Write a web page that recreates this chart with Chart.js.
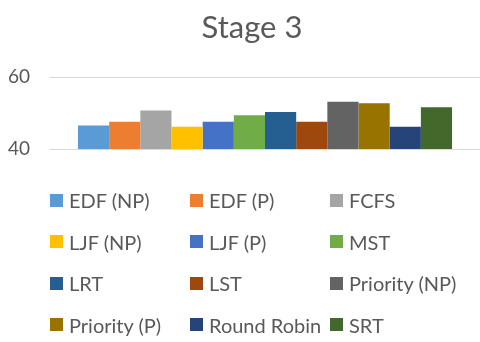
<!DOCTYPE html>
<html>
<head>
<meta charset="utf-8">
<script src="https://cdn.jsdelivr.net/npm/chart.js@4"></script>
<style>
    body { margin: 0; background: #fff; }
    .wrap { position: relative; width: 480px; height: 342px; }
    #legend { position: absolute; left: 0; top: 0; width: 480px; height: 342px; pointer-events: none; }
    .title { position: absolute; left: 152px; width: 200px; top: 6px; text-align: center; font-family: Lato, sans-serif; font-size: 31px; line-height: 40px; color: #595959; }
    .item { position: absolute; display: flex; align-items: center; height: 24px; font-family: Lato, sans-serif; font-size: 20px; color: #595959; white-space: nowrap; }
    .box { width: 13px; height: 13px; margin-right: 6px; flex: none; }
</style>
</head>
<body>
<div class="wrap">
    <canvas id="barChart" width="480" height="342"></canvas>
    <div id="legend"></div>
</div>
<script>
const chartTitle = 'Stage 3';
const categories = ['Stage 3'];
const seriesNames = ['EDF (NP)', 'EDF (P)', 'FCFS', 'LJF (NP)', 'LJF (P)', 'MST',
    'LRT', 'LST', 'Priority (NP)', 'Priority (P)', 'Round Robin', 'SRT'];
const seriesValues = [46.5, 47.6, 50.7, 46.2, 47.6, 49.4, 50.3, 47.6, 53.1, 52.7, 46.2, 51.6];
const seriesColors = ['#5b9bd5', '#ed7d31', '#a5a5a5', '#ffc000', '#4472c4', '#70ad47',
    '#255e91', '#9e480e', '#636363', '#997300', '#264478', '#43682b'];
const yTicks = [40, 60];

const ctx = document.getElementById('barChart');

const chart = new Chart(ctx, {
    type: 'bar',
    data: {
        labels: categories,
        datasets: seriesNames.map(function (name, i) {
            return {
                label: name,
                data: [seriesValues[i]],
                backgroundColor: seriesColors[i],
                categoryPercentage: 0.87,
                barPercentage: 1
            };
        })
    },
    options: {
        responsive: false,
        animation: false,
        layout: { autoPadding: false, padding: { top: 77, left: 0, right: 0, bottom: 193 } },
        plugins: {
            legend: { display: false },
            tooltip: { enabled: false },
            title: { display: false }
        },
        scales: {
            x: { display: false },
            y: {
                min: yTicks[0],
                max: yTicks[yTicks.length - 1],
                afterBuildTicks: function (axis) {
                    axis.ticks = yTicks.map(function (v) { return { value: v }; });
                },
                afterFit: function (axis) {
                    axis.width = 50;
                },
                border: { display: false },
                grid: { color: '#d9d9d9', lineWidth: 1, drawTicks: false },
                ticks: {
                    color: '#595959',
                    padding: 20,
                    font: { family: 'Lato', size: 19 }
                }
            }
        }
    }
});

// title and legend as page text, placed like the original
const overlay = document.getElementById('legend');
const title = document.createElement('div');
title.className = 'title';
title.textContent = chartTitle;
overlay.appendChild(title);

const colX = [50, 190, 330];
const rowY = [200, 241.5, 283, 324.5];
chart.data.datasets.forEach(function (ds, i) {
    const item = document.createElement('div');
    item.className = 'item';
    item.style.left = colX[i % 3] + 'px';
    item.style.top = (rowY[Math.floor(i / 3)] - 12) + 'px';
    const box = document.createElement('span');
    box.className = 'box';
    box.style.background = ds.backgroundColor;
    item.appendChild(box);
    item.appendChild(document.createTextNode(ds.label));
    overlay.appendChild(item);
});
</script>
</body>
</html>
